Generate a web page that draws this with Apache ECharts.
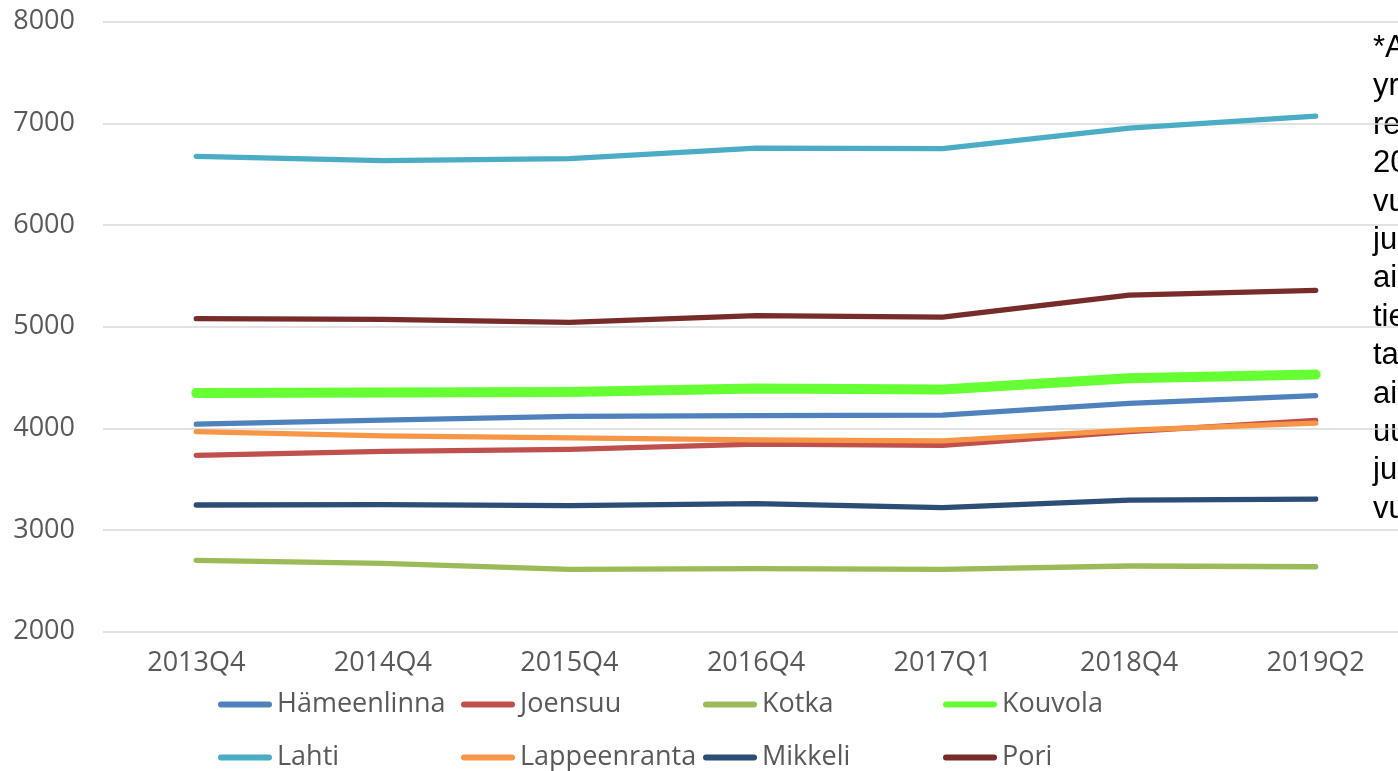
<!DOCTYPE html>
<html>
<head>
<meta charset="utf-8">
<script src="https://cdn.jsdelivr.net/npm/echarts@6/dist/echarts.min.js"></script>
<style>
  html, body { margin: 0; padding: 0; background: #fff; overflow: hidden; }
  #container { width: 1398px; height: 771px; }
</style>
</head>
<body>
<div id="container"></div>
<script>
var categories = ['2013Q4', '2014Q4', '2015Q4', '2016Q4', '2017Q1', '2018Q4', '2019Q2'];

var hameenlinna  = [4042, 4082, 4118, 4125, 4131, 4246, 4322];
var joensuu      = [3735, 3774, 3794, 3845, 3834, 3969, 4078];
var kotka        = [2702, 2673, 2614, 2620, 2614, 2646, 2639];
var kouvola      = [4347, 4354, 4357, 4393, 4383, 4494, 4530];
var lahti        = [6675, 6633, 6653, 6757, 6751, 6954, 7072];
var lappeenranta = [3967, 3927, 3907, 3887, 3877, 3982, 4051];
var mikkeli      = [3246, 3250, 3240, 3259, 3220, 3295, 3305];
var pori         = [5079, 5073, 5043, 5108, 5095, 5311, 5357];

var seriesNames = ['Hämeenlinna', 'Joensuu', 'Kotka', 'Kouvola', 'Lahti', 'Lappeenranta', 'Mikkeli', 'Pori'];
var seriesData  = [hameenlinna, joensuu, kotka, kouvola, lahti, lappeenranta, mikkeli, pori];
var colors      = ['#4F81BD', '#C0504D', '#9BBB59', '#66FF33', '#4BACC6', '#F79646', '#2C4D75', '#772C2A'];

// note box on the right, cut off by the picture edge
var noteLines = ['*A', 'yr', 're', '20', 'vu', 'ju', 'ai', 'tie', 'ta', 'ai', 'uu', 'ju', 'vu'];

var myChart = echarts.init(document.getElementById('container'));

var legendCols = [218, 461, 703, 943];
var legendRows = [691, 744];
var capsule = 'path://M3,0 L51,0 A3,3 0 0 1 51,6 L3,6 A3,3 0 0 1 3,0 Z';

var legends = seriesNames.map(function (name, i) {
    return {
        data: [name],
        left: legendCols[i % 4],
        top: legendRows[Math.floor(i / 4)],
        padding: 0,
        icon: capsule,
        itemWidth: 54,
        itemHeight: name === 'Kouvola' ? 10 : 6,
        textStyle: { fontFamily: 'Open Sans', fontSize: 27, color: '#595959' }
    };
});

var series = seriesNames.map(function (name, i) {
    return {
        name: name,
        type: 'line',
        data: seriesData[i],
        showSymbol: false,
        symbol: 'none',
        color: colors[i],
        lineStyle: { width: name === 'Kouvola' ? 10 : 5.3, cap: 'round', join: 'round', color: colors[i] },
        emphasis: { disabled: true }
    };
});

var notes = noteLines.map(function (t, i) {
    return {
        type: 'text',
        left: 1373,
        top: 33 + i * 38.4,
        style: { text: t, fontFamily: 'Liberation Sans', fontSize: 31, fill: '#000' }
    };
});

var option = {
    animation: false,
    backgroundColor: '#fff',
    grid: { left: 103, top: 21.7, width: 1306, height: 610, outerBoundsMode: 'none', containLabel: false },
    legend: legends,
    xAxis: {
        type: 'category',
        data: categories,
        boundaryGap: true,
        axisLine: { show: false },
        axisTick: { show: false },
        axisLabel: { fontFamily: 'Open Sans', fontSize: 27, color: '#595959', margin: 18 }
    },
    yAxis: {
        type: 'value',
        min: 2000,
        max: 8000,
        interval: 1000,
        axisLine: { show: false },
        axisTick: { show: false },
        axisLabel: {
            fontFamily: 'Open Sans', fontSize: 27, color: '#595959', margin: 28,
            formatter: function (v) { return String(v); }
        },
        splitLine: { lineStyle: { color: '#d9d9d9', width: 1.5 } }
    },
    graphic: notes,
    series: series
};

myChart.setOption(option);
</script>
</body>
</html>
